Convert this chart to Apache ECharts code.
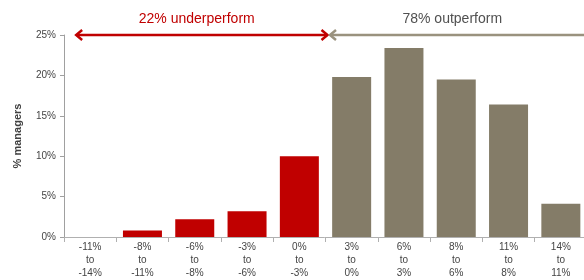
<!DOCTYPE html>
<html>
<head>
<meta charset="utf-8">
<script src="https://cdn.jsdelivr.net/npm/echarts@6/dist/echarts.min.js"></script>
<style>html,body{margin:0;padding:0;background:#fff;}#c{width:584px;height:280px;}</style>
</head>
<body>
<div id="c"></div>
<script>
const categories = ['-11%\nto\n-14%','-8%\nto\n-11%','-6%\nto\n-8%','-3%\nto\n-6%','0%\nto\n-3%','3%\nto\n0%','6%\nto\n3%','8%\nto\n6%','11%\nto\n8%','14%\nto\n11%'];
const values = [0, 0.8, 2.2, 3.2, 10.0, 19.8, 23.4, 19.5, 16.4, 4.1];
const isUnder = [true, true, true, true, true, false, false, false, false, false];
const yTicks = [0, 5, 10, 15, 20, 25];
const underLabel = '22% underperform';
const outLabel = '78% outperform';

const RED = '#c00000';
const GREY = '#847c68';
const GREY_ARROW = '#9a927e';

const chart = echarts.init(document.getElementById('c'), null, {renderer: 'canvas'});
chart.setOption({
  animation: false,
  grid: {left: 64, right: -3, top: 35, bottom: 43, outerBoundsMode: 'none'},
  xAxis: {
    type: 'category',
    data: categories,
    axisLine: {lineStyle: {color: '#b0b0b0', width: 1}},
    axisTick: {show: true, length: 5, lineStyle: {color: '#b0b0b0'}},
    axisLabel: {fontFamily: 'Liberation Sans', fontSize: 10, color: '#444', lineHeight: 13, margin: 4, interval: 0}
  },
  yAxis: {
    type: 'value',
    min: yTicks[0], max: yTicks[yTicks.length - 1], interval: 5,
    name: '% managers',
    nameLocation: 'middle',
    nameGap: 41,
    nameTextStyle: {fontFamily: 'Liberation Sans', fontSize: 11, fontWeight: 'bold', color: '#404040'},
    axisLine: {show: true, lineStyle: {color: '#a0a0a0', width: 1}},
    axisTick: {show: true, length: 4, lineStyle: {color: '#a0a0a0'}},
    splitLine: {show: false},
    axisLabel: {formatter: '{value}%', fontFamily: 'Liberation Sans', fontSize: 10, color: '#444', margin: 8}
  },
  series: [{
    type: 'bar',
    barWidth: 39,
    data: values.map((v, i) => ({value: v, itemStyle: {color: isUnder[i] ? RED : GREY}}))
  }]
});

function px(idx) { return chart.convertToPixel({xAxisIndex: 0}, idx); }
const step = px(1) - px(0);
const yTop = chart.convertToPixel({yAxisIndex: 0}, yTicks[yTicks.length - 1]);
const lastUnder = isUnder.lastIndexOf(true);
const boundary = px(lastUnder) + step / 2;
const redL = px(0) - 14;
const redR = boundary + 2;
const greyL = boundary + 4.5;
const greyR = px(categories.length - 1) + step / 2 + 10;
const ah = 6, aw = 5;

function chevron(tipX, y, dir, color) {
  return {type: 'polyline', shape: {points: [[tipX + dir * ah, y - aw], [tipX, y], [tipX + dir * ah, y + aw]]},
    style: {stroke: color, lineWidth: 2.5, fill: null}};
}

chart.setOption({
  graphic: [
    {type: 'line', shape: {x1: redL + 1, y1: yTop, x2: redR - 1, y2: yTop}, style: {stroke: RED, lineWidth: 2.5}},
    chevron(redL, yTop, 1, RED),
    chevron(redR, yTop, -1, RED),
    {type: 'line', shape: {x1: greyL + 1, y1: yTop, x2: greyR, y2: yTop}, style: {stroke: GREY_ARROW, lineWidth: 2.5}},
    chevron(greyL, yTop, 1, GREY_ARROW),
    {type: 'text', x: px(2) + 2, y: 19, style: {text: underLabel, fill: RED, font: '14px "Liberation Sans"', align: 'center', verticalAlign: 'middle'}},
    {type: 'text', x: px(7) - 4, y: 19, style: {text: outLabel, fill: '#505050', font: '14px "Liberation Sans"', align: 'center', verticalAlign: 'middle'}}
  ]
});
</script>
</body>
</html>
